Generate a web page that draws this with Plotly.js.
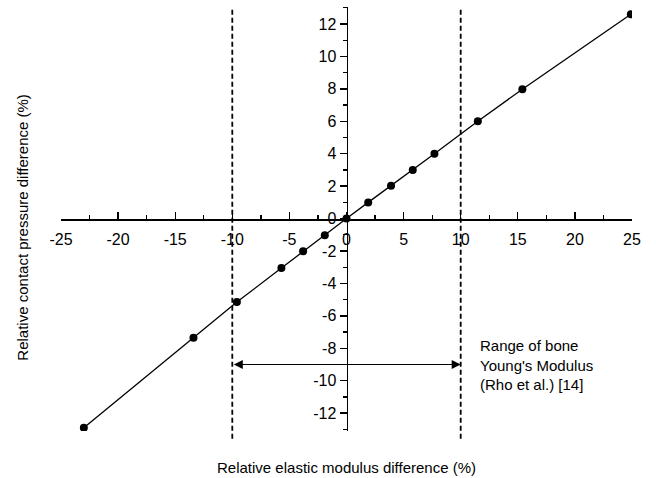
<!DOCTYPE html>
<html>
<head>
<meta charset="utf-8">
<script src="https://cdn.plot.ly/plotly-3.0.1.min.js"></script>
<style>html,body{margin:0;padding:0;background:#fff;}#chart{width:656px;height:478px;}</style>
</head>
<body>
<div id="chart"></div>
<script>
// Data
const modulusDiff = [-23.0, -13.4, -9.6, -5.7, -3.8, -1.9, 0, 1.9, 3.9, 5.8, 7.7, 11.5, 15.4, 24.9];
const pressureDiff = [-12.9, -7.35, -5.15, -3.05, -2.02, -1.02, 0, 1.0, 2.02, 3.0, 4.0, 6.0, 7.98, 12.6];
const xTickVals = [-25, -20, -15, -10, -5, 0, 5, 10, 15, 20, 25];
const xTickText = ["-25", "-20", "-15", "-10", "-5", "0", "5", "10", "15", "20", "25"];
const yTickVals = [-12, -10, -8, -6, -4, -2, 0, 2, 4, 6, 8, 10, 12];
const yTickText = ["-12", "-10", "-8", "-6", "-4", "-2", "0", "2", "4", "6", "8", "10", "12"];
const rangeBounds = [-10, 10];
const rangeArrowY = -9;
const rangeLabel = "Range of bone<br>Young's Modulus<br>(Rho et al.) [14]";
const xTitle = "Relative elastic modulus difference (%)";
const yTitle = "Relative contact pressure difference (%)";

const font = "Liberation Sans, Arial, sans-serif";

const trace = {
  x: modulusDiff, y: pressureDiff,
  mode: 'lines+markers', type: 'scatter',
  line: {color: '#000', width: 1.3},
  marker: {color: '#000', size: 8},
  showlegend: false, hoverinfo: 'skip'
};

const shapes = rangeBounds.map(v => ({
  type: 'line', xref: 'x', yref: 'paper', x0: v, x1: v, y0: -0.018, y1: 1.0,
  line: {color: '#000', width: 1.8, dash: '5px,3px'}
}));

const layout = {
  width: 656, height: 478,
  margin: {l: 61, r: 24, t: 7, b: 47},
  paper_bgcolor: '#fff', plot_bgcolor: '#fff',
  font: {family: font, size: 16, color: '#000'},
  xaxis: {
    range: [-25, 25], anchor: 'free', position: 0.5, side: 'bottom',
    showgrid: false, zeroline: false, showline: true, linecolor: '#000', linewidth: 1.6,
    tickmode: 'array', tickvals: xTickVals, ticktext: xTickText,
    ticks: 'inside', ticklen: 7, tickwidth: 1.4, tickcolor: '#000',
    minor: {dtick: 2.5, tick0: 0, ticks: 'inside', ticklen: 4, tickwidth: 1.3, tickcolor: '#000'},
    ticklabelstandoff: 5,
    tickfont: {family: font, size: 16, color: '#000'}
  },
  yaxis: {
    range: [-13.1, 13.05], anchor: 'free', position: 0.5, side: 'left',
    showgrid: false, zeroline: false, showline: true, linecolor: '#000', linewidth: 1.6,
    tickmode: 'array', tickvals: yTickVals, ticktext: yTickText,
    ticks: 'outside', ticklen: 7, tickwidth: 1.4, tickcolor: '#000',
    minor: {dtick: 1, tick0: 0, ticks: 'outside', ticklen: 4, tickwidth: 1.3, tickcolor: '#000'},
    tickfont: {family: font, size: 16, color: '#000'}
  },
  shapes: shapes,
  annotations: [
    {x: rangeBounds[1], y: rangeArrowY, ax: rangeBounds[0], ay: rangeArrowY, axref: 'x', ayref: 'y',
     xref: 'x', yref: 'y', text: '', showarrow: true, arrowhead: 2, arrowside: 'end+start',
     arrowsize: 1.5, arrowwidth: 1.2, arrowcolor: '#000', standoff: 0, startstandoff: 0},
    {x: 11.5, y: rangeArrowY, xref: 'x', yref: 'y', text: rangeLabel, showarrow: false,
     xanchor: 'left', yanchor: 'middle', align: 'left', font: {family: font, size: 15, color: '#000'}},
    {x: 0.5, y: -0.085, xref: 'paper', yref: 'paper', text: xTitle, showarrow: false,
     xanchor: 'center', yanchor: 'middle', font: {family: font, size: 15, color: '#000'}},
    {x: -0.068, y: 0.48, xref: 'paper', yref: 'paper', text: yTitle, showarrow: false, textangle: -90,
     xanchor: 'center', yanchor: 'middle', font: {family: font, size: 15, color: '#000'}}
  ]
};

Plotly.newPlot('chart', [trace], layout, {displayModeBar: false, staticPlot: true});
</script>
</body>
</html>
